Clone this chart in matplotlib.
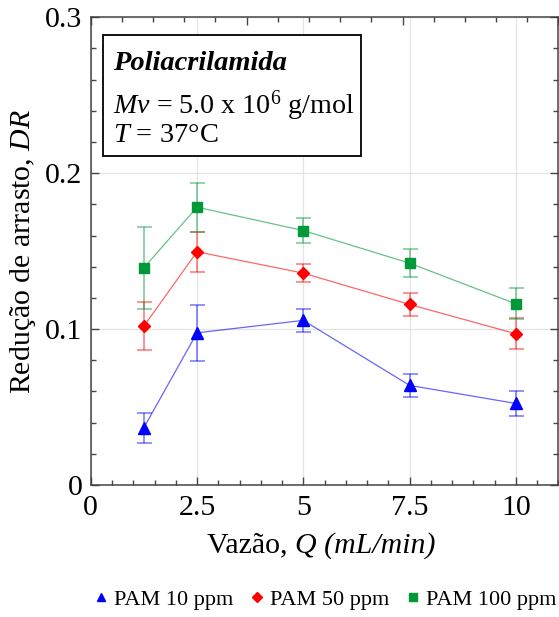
import numpy as np
import matplotlib
matplotlib.use('Agg')
from matplotlib import pyplot as plt
from matplotlib.ticker import MultipleLocator
from matplotlib.patches import Rectangle

plt.rcParams['font.family'] = 'Liberation Serif'
plt.rcParams['mathtext.fontset'] = 'custom'
plt.rcParams['mathtext.rm'] = 'Liberation Serif'
plt.rcParams['mathtext.it'] = 'Liberation Serif:italic'
plt.rcParams['mathtext.bf'] = 'Liberation Serif:bold'

# vazão (mL/min)
vazao = [1.25, 2.5, 5.0, 7.5, 10.0]

# redução de arrasto e desvios
dr_10 = [0.0368, 0.0976, 0.1056, 0.0639, 0.0523]
err_10 = [0.0096, 0.0180, 0.0073, 0.0075, 0.0083]
dr_50 = [0.1019, 0.1496, 0.1359, 0.1158, 0.0970]
err_50 = [0.0156, 0.0130, 0.0060, 0.0072, 0.0100]
dr_100 = [0.1393, 0.1782, 0.1632, 0.1423, 0.1162]
err_100 = [0.0263, 0.0157, 0.0079, 0.0092, 0.0100]

series = [
    ('PAM 10 ppm', dr_10, err_10, '#0000ff', '^', 8.5),
    ('PAM 50 ppm', dr_50, err_50, '#ff0000', 'D', 6.6),
    ('PAM 100 ppm', dr_100, err_100, '#00993a', 's', 7.4),
]

fig = plt.figure(figsize=(5.59, 6.17), dpi=100)
ax = fig.add_axes([0.1623, 0.2139, 0.8367, 0.7581])

for label, y, e, c, m, ms in series:
    ax.errorbar(vazao, y, yerr=e, fmt='none', ecolor=c, alpha=0.5,
                elinewidth=1.2, capsize=5.4, capthick=1.2, zorder=3)
    ax.plot(vazao, y, color=c, lw=0.9, alpha=0.6, zorder=4)
    ax.plot(vazao, y, ls='none', marker=m, ms=ms, color=c, label=label,
            zorder=5)

ax.set_xlim(0, 11)
ax.set_ylim(0, 0.3)
ax.xaxis.set_minor_locator(MultipleLocator(0.5))
ax.yaxis.set_minor_locator(MultipleLocator(0.02))
ax.set_xticks([0, 2.5, 5, 7.5, 10])
ax.set_xticklabels(['0', '2.5', '5', '7.5', '10'])
ax.set_yticks([0, 0.1, 0.2, 0.3])
ax.set_yticklabels(['0', '0.1', '0.2', '0.3'])
ax.grid(True, which='major', color='#e4e4e4', lw=0.9, zorder=0)
ax.set_axisbelow(True)

ax.tick_params(which='both', direction='in', top=False, right=True,
               color='#444444', labelsize=21.5)
ax.tick_params(which='major', length=6, width=1)
ax.tick_params(which='minor', length=3.5, width=1)
ax.tick_params(axis='x', pad=7)
ax.tick_params(axis='y', pad=6)
for s in ax.spines.values():
    s.set_color('#444444')
    s.set_linewidth(1.1)

# eixo superior com marcações próprias
ax2 = ax.twiny()
ax2.set_xlim(0, 3)
ax2.xaxis.set_major_locator(MultipleLocator(1))
ax2.xaxis.set_minor_locator(MultipleLocator(0.2))
ax2.tick_params(which='both', direction='in', labeltop=False,
                color='#444444')
ax2.tick_params(which='major', length=6, width=1)
ax2.tick_params(which='minor', length=3.5, width=1)
for s in ax2.spines.values():
    s.set_visible(False)

# rótulo do eixo x em duas partes (parte em itálico)
ax.text(0.436, -0.145, 'Vazão, ', transform=ax.transAxes, fontsize=21.5,
        ha='right', va='baseline')
ax.text(0.436, -0.145, 'Q (mL/min)', transform=ax.transAxes, fontsize=21.5,
        style='italic', ha='left', va='baseline')
ax.set_ylabel('Redução de arrasto, $\\mathit{DR}$', fontsize=21.5,
              labelpad=5)

# caixa de condições
ax.add_patch(Rectangle((0.0267, 0.7030), 0.5507, 0.2600,
                       transform=ax.transAxes, fill=True, fc='white',
                       ec='black', lw=1.3, zorder=6))
ax.text(0.048, 0.8873, 'Poliacrilamida', transform=ax.transAxes,
        fontsize=20.5, fontweight='bold', style='italic', zorder=7)
ax.text(0.048, 0.7948, '$\\mathit{Mv}$ = 5.0 x 10$^{6}$ g/mol',
        transform=ax.transAxes, fontsize=20.2, zorder=7)
ax.text(0.048, 0.7340, '$\\mathit{T}$ = 37°C', transform=ax.transAxes,
        fontsize=20.5, zorder=7)

fig.legend(loc='center', bbox_to_anchor=(0.578, 0.028), ncol=3,
           frameon=False, fontsize=16, handletextpad=0.1,
           columnspacing=0.55, handlelength=1.0, markerscale=0.75)

fig.savefig('out.png', dpi=100, facecolor='white')
